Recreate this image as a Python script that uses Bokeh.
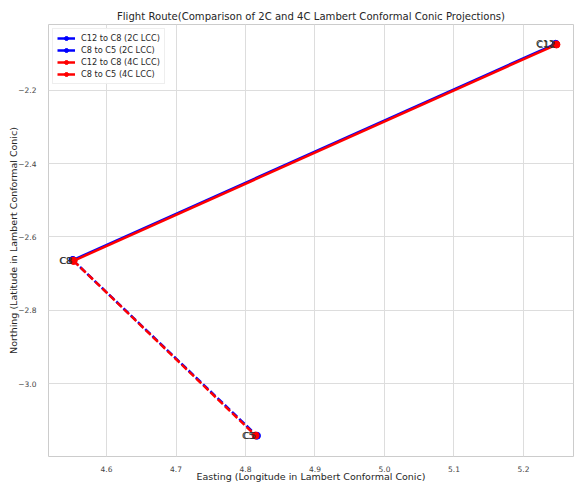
from bokeh.plotting import figure
from bokeh.models import (Range1d, FixedTicker, CustomJSTickFormatter, Legend,
                          LegendItem, Label)
from bokeh.core.properties import value
from bokeh.embed import file_html
from bokeh.resources import INLINE

# Projected coordinates (metres) of the three waypoints in each projection
cities = ["C12", "C8", "C5"]
east_2c = [5246500, 4551500, 4816500]
north_2c = [-2073000, -2663000, -3142000]
east_4c = [5247500, 4552500, 4814500]
north_4c = [-2075000, -2665000, -3141500]

x_ticks = [4.6e6, 4.7e6, 4.8e6, 4.9e6, 5.0e6, 5.1e6, 5.2e6]
y_ticks = [-2.2e6, -2.4e6, -2.6e6, -2.8e6, -3.0e6]

FONT = "DejaVu Sans"
BLUE = "#0000ff"
RED = "#ff0000"

p = figure(width=575, height=484, output_backend="svg", toolbar_location=None,
           x_range=Range1d(4.5165e6, 5.272e6), y_range=Range1d(-3.1987e6, -2.0204e6),
           min_border_left=48, min_border_right=2, min_border_top=24, min_border_bottom=27,
           background_fill_color="white", border_fill_color="white")

p.title.text = "Flight Route(Comparison of 2C and 4C Lambert Conformal Conic Projections)"
p.title.align = "center"
p.title.text_font = FONT
p.title.text_font_size = "10.1px"
p.title.text_font_style = "normal"
p.title.text_color = "#262626"
p.title.standoff = 5

p.outline_line_color = "#cccccc"
p.outline_line_width = 1
for g in (p.xgrid, p.ygrid):
    g.grid_line_color = "#dddddd"
    g.grid_line_width = 1

fmt = CustomJSTickFormatter(code="return (tick/1e6).toFixed(1).replace('-', '\u2212');")
for ax, ticks in ((p.xaxis, x_ticks), (p.yaxis, y_ticks)):
    ax.ticker = FixedTicker(ticks=ticks)
    ax.formatter = fmt
    ax.axis_line_color = None
    ax.major_tick_line_color = None
    ax.minor_tick_line_color = None
    ax.major_label_text_font = FONT
    ax.major_label_text_font_size = "7.5px"
    ax.major_label_text_color = "#444444"
    ax.axis_label_text_font = FONT
    ax.axis_label_text_font_size = "9.5px"
    ax.axis_label_text_font_style = "normal"
    ax.axis_label_text_color = "#262626"

p.xaxis.axis_label = "Easting (Longitude in Lambert Conformal Conic)"
p.yaxis.axis_label = "Northing (Latitude in Lambert Conformal Conic)"
p.xaxis.major_label_standoff = 3
p.xaxis.axis_label_standoff = -4
p.yaxis.major_label_standoff = 6
p.yaxis.axis_label_standoff = -4


def leg(east, north, i, j, color, dash):
    xs = [east[i], east[j]]
    ys = [north[i], north[j]]
    ln = p.line(xs, ys, line_color=color, line_width=2.5, line_dash=dash)
    mk = p.scatter(xs, ys, size=7, fill_color=color, line_color=color)
    return ln, mk


b1, bm1 = leg(east_2c, north_2c, 0, 1, BLUE, "solid")
b2, bm2 = leg(east_2c, north_2c, 1, 2, BLUE, "7 3")
r1, rm1 = leg(east_4c, north_4c, 0, 1, RED, "solid")
r2, rm2 = leg(east_4c, north_4c, 1, 2, RED, "7 3")

# City names next to each waypoint, for both projections
for east, north in ((east_2c, north_2c), (east_4c, north_4c)):
    p.text(east, north, text=cities, text_font=value(FONT), text_font_size="9.5px",
           text_align="right", text_baseline="alphabetic", text_color="#333333",
           x_offset=-1)

# Legend keys are shown as solid line + marker for every route
items = [
    LegendItem(label="C12 to C8 (2C LCC)", renderers=[b1, bm1]),
    LegendItem(label="C8 to C5 (2C LCC)", renderers=[b1, bm2]),
    LegendItem(label="C12 to C8 (4C LCC)", renderers=[r1, rm1]),
    LegendItem(label="C8 to C5 (4C LCC)", renderers=[r1, rm2]),
]
legend = Legend(items=items, location="top_left", orientation="vertical")
legend.label_text_font = FONT
legend.label_text_font_size = "8.2px"
legend.label_text_color = "#262626"
legend.glyph_width = 18
legend.glyph_height = 10
legend.label_height = 10
legend.label_standoff = 6
legend.spacing = 2
legend.padding = 4
legend.margin = 4
legend.border_line_color = "#dddddd"
legend.border_line_width = 1
legend.background_fill_alpha = 0.9
p.add_layout(legend)

# Offset (scale) annotations of the two axes
p.add_layout(Label(x=4.5165e6, y=-2.0204e6, text="1e6", text_font=FONT,
                   text_font_size="7.5px", text_color="#444444", x_offset=0, y_offset=3,
                   text_baseline="bottom"))
p.add_layout(Label(x=5.272e6, y=-3.1987e6, text="1e6", text_font=FONT,
                   text_font_size="7.5px", text_color="#444444", x_offset=1, y_offset=-25,
                   text_align="right", text_baseline="bottom"))

open("out.html", "w").write(file_html(p, INLINE))
